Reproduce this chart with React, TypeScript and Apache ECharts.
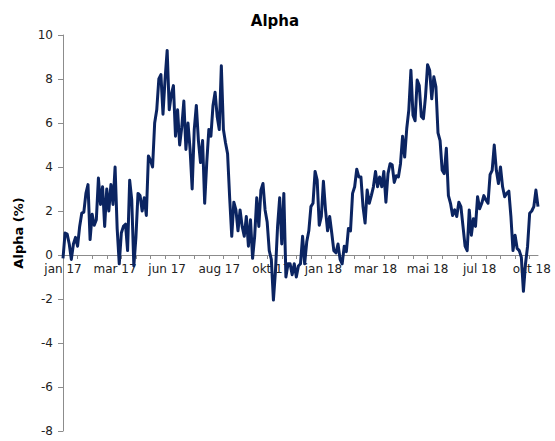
import React, { useEffect, useRef } from "react";
import * as echarts from "echarts";

const monthLabels = ["jan 17", "mar 17", "jun 17", "aug 17", "okt 17", "jan 18", "mar 18", "mai 18", "jul 18", "okt 18"];
const labelStep = 25;
const tickStep = 7;

const alpha = [
  -0.15, 1.0, 0.95, 0.5, -0.2, 0.5, 0.8, 0.4, 1.3, 1.9,
  1.95, 2.8, 3.2, 0.7, 1.85, 1.35, 1.6, 3.5, 2.3, 3.1,
  1.3, 3.0, 2.0, 3.2, 2.3, 4.0, 1.2, -0.4, 1.0, 1.3,
  1.4, 0.2, 3.4, 2.5, -0.5, 0.8, 2.8, 2.7, 2.0, 2.6,
  1.8, 4.5, 4.3, 4.0, 6.0, 6.6, 8.0, 8.2, 6.4, 8.0,
  9.3, 6.6, 7.3, 7.7, 5.4, 6.6, 5.0, 5.8, 7.0, 4.8,
  6.0, 4.8, 3.0, 5.7, 6.8, 5.2, 4.2, 5.2, 2.35, 4.2,
  5.7, 5.4, 6.8, 7.4, 6.3, 5.7, 8.6, 5.7, 5.1, 4.6,
  2.6, 0.85, 2.4, 2.05, 1.1, 2.05, 1.3, 0.85, 1.75, 0.4,
  1.6, -0.15, 0.85, 2.6, 1.3, 2.95, 3.25, 2.05, 1.5, 0.2,
  -0.2, -2.05, -0.7, 1.3, 2.6, 0.5, 2.8, -1.0, -0.4, -0.4,
  -0.9, -0.4, -1.0, -0.5, -0.4, 0.85, -0.4, 0.6, 1.1, 2.2,
  2.35, 3.8, 3.4, 1.35, 1.75, 3.35, 2.05, 1.1, 1.75, 1.0,
  0.2, 0.1, 0.5, -0.2, -0.4, 0.4, 0.15, 1.2, 1.1, 2.8,
  3.1, 3.9, 3.55, 3.55, 2.2, 1.45, 2.95, 2.35, 2.7, 3.1,
  3.8, 3.1, 3.55, 3.1, 3.8, 2.4, 3.7, 4.15, 4.1, 3.3,
  3.6, 3.55, 4.15, 5.4, 4.45, 5.75, 6.6, 8.4, 6.35, 6.1,
  7.95, 7.7, 6.3, 6.2, 7.2, 8.65, 8.4, 7.1, 8.1, 7.65,
  5.55, 5.2, 3.85, 3.7, 4.85, 2.7, 2.35, 1.8, 2.05, 1.75,
  2.4, 2.2, 1.3, 0.4, 0.2, 2.05, 0.9, 1.65, 1.3, 2.65,
  2.1, 2.35, 2.7, 2.5, 2.35, 3.65, 3.85, 5.0, 3.85, 3.25,
  4.0, 3.1, 2.65, 2.8, 2.9, 1.75, 0.2, 0.9, 0.3, 0.2,
  -0.1, -1.65, -0.4, 0.4, 1.9, 2.0, 2.2, 2.95, 2.2,
];

const yMin = -8;
const yMax = 10;
const yStep = 2;

export default function App() {
  const ref = useRef<HTMLDivElement>(null);
  useEffect(() => {
    if (!ref.current) return;
    const chart = echarts.init(ref.current, undefined, { renderer: "svg" });
    const categories = alpha.map((_, i) =>
      i % labelStep === 0 && monthLabels[i / labelStep] ? monthLabels[i / labelStep] : ""
    );
    const font = "'DejaVu Sans', Verdana, sans-serif";
    const gridTop = 35;
    const gridBottom = 10;
    const gridHeight = 441 - gridTop - gridBottom;
    const zeroOffset = -((0 - yMin) / (yMax - yMin)) * gridHeight;
    chart.setOption({
      animation: false,
      title: {
        text: "Alpha",
        left: 270,
        textAlign: "center",
        top: 8,
        textStyle: { fontFamily: font, fontSize: 15, fontWeight: "bold", color: "#000" },
      },
      grid: {
        left: 63,
        right: 17,
        top: gridTop,
        bottom: gridBottom,
        containLabel: false,
        outerBoundsMode: "none",
      },
      xAxis: {
        type: "category",
        data: categories,
        boundaryGap: false,
        position: "bottom",
        offset: zeroOffset,
        axisLine: { onZero: false, lineStyle: { color: "#8c8c8c", width: 1 } },
        axisTick: { show: true, interval: tickStep - 1, length: 4, lineStyle: { color: "#8c8c8c" } },
        axisLabel: {
          interval: labelStep - 1,
          margin: 8,
          fontFamily: font,
          fontSize: 12,
          color: "#222",
          hideOverlap: false,
        },
        splitLine: { show: false },
      },
      yAxis: {
        type: "value",
        min: yMin,
        max: yMax,
        interval: yStep,
        name: "Alpha (%)",
        nameLocation: "middle",
        nameGap: 38,
        nameTextStyle: { fontFamily: font, fontSize: 13, fontWeight: "bold", color: "#000" },
        axisLine: { show: true, lineStyle: { color: "#8c8c8c", width: 1 } },
        axisTick: { show: true, length: 5, lineStyle: { color: "#8c8c8c" } },
        axisLabel: { margin: 10, fontFamily: font, fontSize: 12, color: "#222" },
        splitLine: { show: false },
      },
      series: [
        {
          type: "line",
          data: alpha,
          showSymbol: false,
          symbol: "none",
          z: 3,
          lineStyle: { color: "#0b2461", width: 3, join: "round" },
        },
      ],
    });
    return () => chart.dispose();
  }, []);
  return (
    <div
      ref={ref}
      style={{ position: "fixed", left: 0, top: 0, width: 555, height: 441, background: "#fff" }}
    />
  );
}
